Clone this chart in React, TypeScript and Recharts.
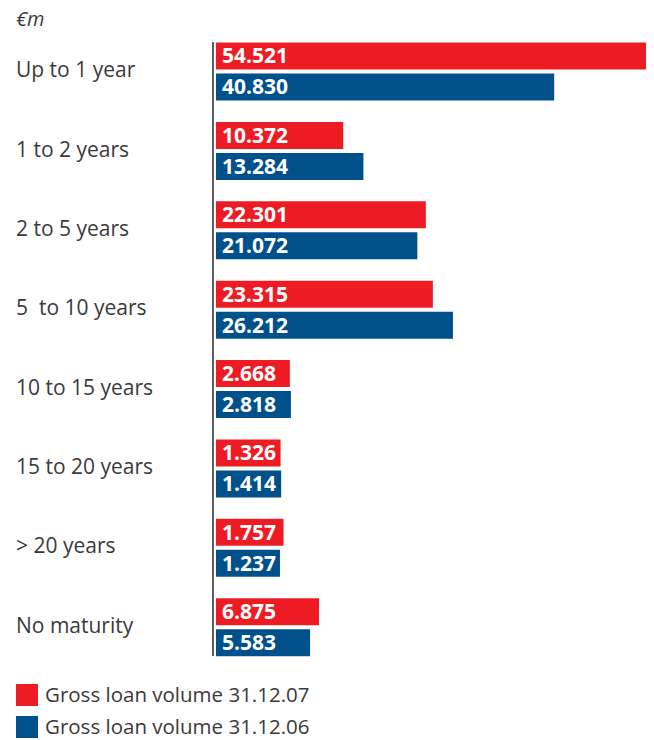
import React from "react";
import { BarChart, Bar, XAxis, YAxis, Legend, LabelList } from "recharts";

const categories = [
  "Up to 1 year",
  "1 to 2 years",
  "2 to 5 years",
  "5  to 10 years",
  "10 to 15 years",
  "15 to 20 years",
  "> 20 years",
  "No maturity",
];
const volume2007 = [54521, 10372, 22301, 23315, 2668, 1326, 1757, 6875];
const volume2006 = [40830, 13284, 21072, 26212, 2818, 1414, 1237, 5583];
const seriesNames = ["Gross loan volume 31.12.07", "Gross loan volume 31.12.06"];
const unitLabel = "€m";

const RED = "#ED1C24";
const BLUE = "#00508C";
const TEXT = "#3a3a3a";
const FONT = "'Open Sans', 'Noto Sans', sans-serif";

const BAR_BASE = -8000;
const X_DOMAIN: [number, number] = [-8430, 55240];

const data = categories.map((c, i) => ({
  category: c,
  v2007: volume2007[i],
  v2006: volume2006[i],
}));

const fmt = (v: any) => {
  const n = Math.round(Number(v));
  return String(n).replace(/\B(?=(\d{3})+(?!\d))/g, ".");
};

const CategoryTick = (props: any) => {
  const { y, payload } = props;
  return (
    <text
      x={8}
      y={y}
      dy={6}
      textAnchor="start"
      fill={TEXT}
      fontSize={21}
      fontFamily={FONT}
      style={{ whiteSpace: "pre" }}
    >
      {payload.value}
    </text>
  );
};

const renderLegend = () => (
  <div style={{ height: 84, paddingTop: 28, boxSizing: "border-box", paddingLeft: 8, fontFamily: FONT }}>
    {[RED, BLUE].map((col, i) => (
      <div
        key={i}
        style={{ display: "flex", alignItems: "center", height: 22, marginBottom: i === 0 ? 10 : 0 }}
      >
        <div style={{ width: 22, height: 22, background: col, marginRight: 7, flexShrink: 0 }} />
        <span
          style={{
            fontSize: 20.5,
            color: TEXT,
            lineHeight: "20px",
            whiteSpace: "nowrap",
            position: "relative",
            top: -1,
          }}
        >
          {seriesNames[i]}
        </span>
      </div>
    ))}
  </div>
);

export default function App() {
  return (
    <div style={{ position: "relative", width: 646, height: 732 }}>
      <div
        style={{
          position: "absolute",
          left: 8,
          top: 0,
          lineHeight: "22px",
          fontSize: 20,
          fontStyle: "italic",
          fontFamily: FONT,
          color: TEXT,
        }}
      >
        {unitLabel}
      </div>
      <BarChart
        width={646}
        height={732}
        data={data}
        layout="vertical"
        margin={{ top: 34, right: 0, bottom: 0, left: 0 }}
        barSize={27}
        barGap={4}
      >
        <XAxis type="number" hide domain={X_DOMAIN} allowDataOverflow />
        <YAxis
          type="category"
          dataKey="category"
          width={205}
          tickLine={false}
          axisLine={{ stroke: "#1a1a1a", strokeWidth: 1.4 }}
          tick={<CategoryTick />}
          interval={0}
          padding={{ top: -10.5, bottom: -10.5 }}
        />
        <Legend verticalAlign="bottom" align="left" layout="horizontal" content={renderLegend} />
        <Bar dataKey={(d: any) => [BAR_BASE, d.v2007]} fill={RED} isAnimationActive={false}>
          <LabelList
            dataKey="v2007"
            position="insideLeft"
            offset={6}
            formatter={fmt}
            fill="#fff"
            fontSize={21}
            fontWeight={700}
            fontFamily={FONT}
          />
        </Bar>
        <Bar dataKey={(d: any) => [BAR_BASE, d.v2006]} fill={BLUE} isAnimationActive={false}>
          <LabelList
            dataKey="v2006"
            position="insideLeft"
            offset={6}
            formatter={fmt}
            fill="#fff"
            fontSize={21}
            fontWeight={700}
            fontFamily={FONT}
          />
        </Bar>
      </BarChart>
    </div>
  );
}
